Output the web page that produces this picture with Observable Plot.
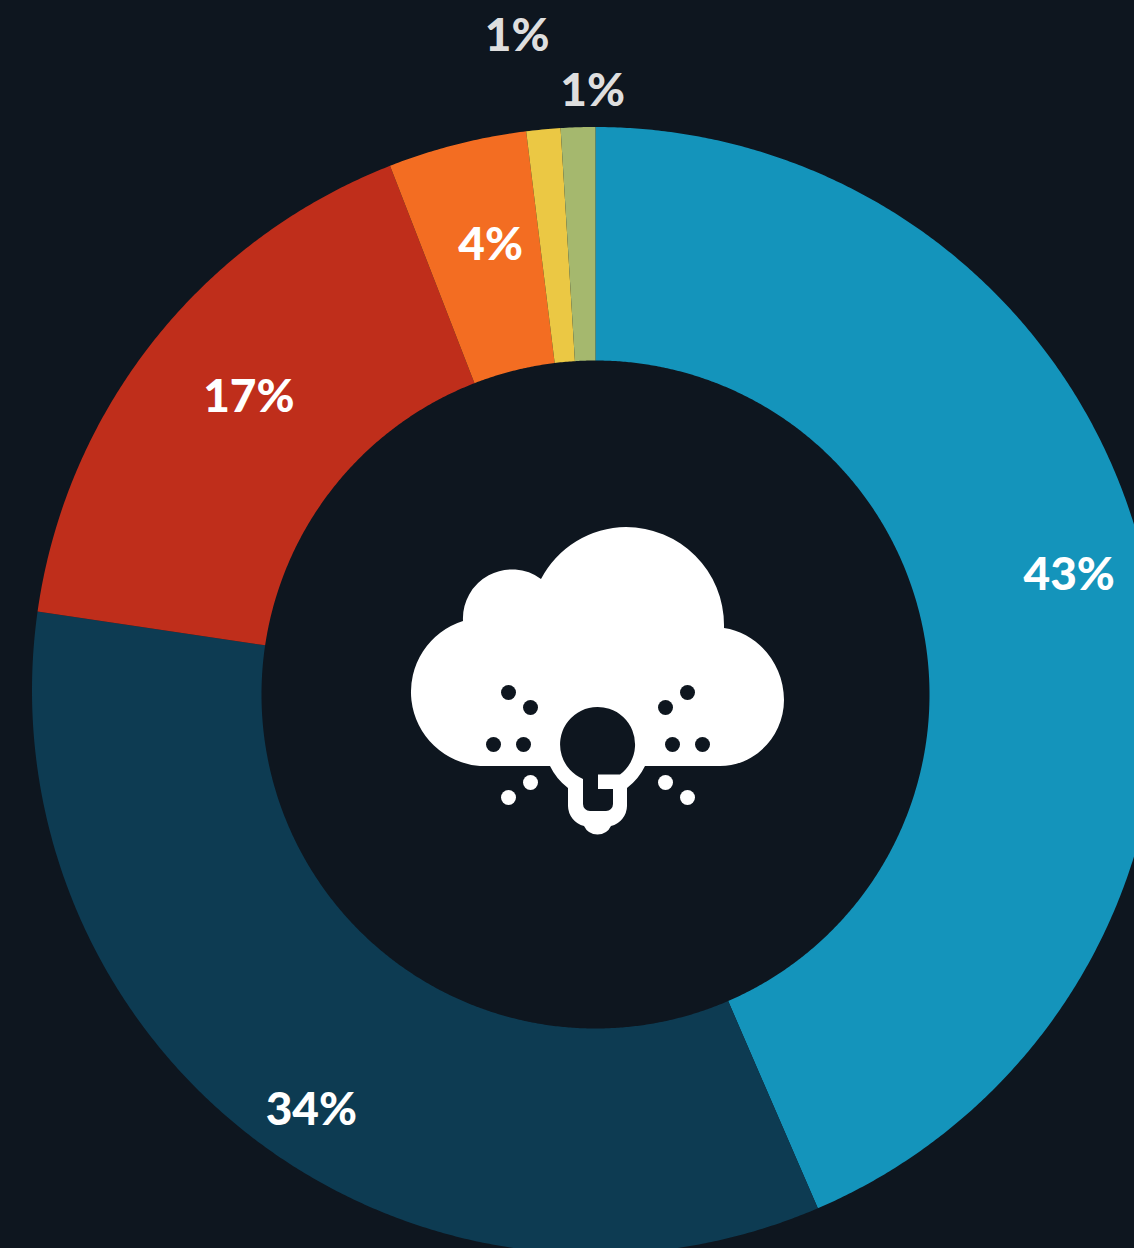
<!DOCTYPE html>
<html>
<head>
<meta charset="utf-8">
<script src="https://cdn.jsdelivr.net/npm/d3@7"></script>
<script src="https://cdn.jsdelivr.net/npm/@observablehq/plot@0.6"></script>
<style>
html,body{margin:0;padding:0;background:#0e161f;overflow:hidden}
svg{display:block}
</style>
</head>
<body>
<div id="chart"></div>
<script>
// Data
const categories = ["A", "B", "C", "D", "E", "F"];
const shares = [43.5, 33.85, 16.75, 3.95, 0.97, 0.98];
const labels = ["43%", "34%", "17%", "4%", "1%", "1%"];
const colors = ["#1494bb", "#0d3b52", "#bf2e1b", "#f36d22", "#ebc844", "#a5b86e"];

// Layout
const W = 1134, H = 1248, BG = "#0e161f";
const cx = 595, cyOuter = 690, cyInner = 694, R = 563.5, r0 = 334, labelR = 450;
const nudges = [[33, -28], [-10, 59], [5, -16], [5, -13], [-37, -210], [11, -153]];

const total = d3.sum(shares);
let acc = 0;
const slices = shares.map((v, i) => {
  const a0 = acc / total * 2 * Math.PI;
  acc += v;
  return {cat: categories[i], label: labels[i], i, a0, a1: acc / total * 2 * Math.PI};
});
const polar = (a, r) => [cx + r * Math.sin(a), cyInner - r * Math.cos(a)];
// Rays leave the inner centre and stop on the outer circle, whose centre sits a little higher.
const d = cyInner - cyOuter;
const outerRadius = a => d * Math.cos(a) + Math.sqrt(d * d * Math.cos(a) ** 2 - d * d + R * R);
const ring = slices.flatMap(s => {
  const n = Math.max(4, Math.ceil((s.a1 - s.a0) * 180));
  const pts = [];
  for (let k = 0; k <= n; ++k) {
    const a = s.a0 + (s.a1 - s.a0) * k / n;
    const [x, y] = polar(a, outerRadius(a));
    pts.push({cat: s.cat, x, y});
  }
  for (let k = n; k >= 0; --k) {
    const [x, y] = polar(s.a0 + (s.a1 - s.a0) * k / n, r0);
    pts.push({cat: s.cat, x, y});
  }
  return pts;
});
const labelRows = slices.map(s => {
  const [x, y] = polar((s.a0 + s.a1) / 2, labelR);
  return {label: s.label, x: x + nudges[s.i][0], y: y + nudges[s.i][1], outside: s.i >= 4};
});

// Icon (decorative glyph, page pixels)
const cloudPath = "M480 766 A74.3 74.3 0 0 1 463 621 A49 49 0 0 1 541 579 A97 97 0 0 1 626 527 A98 98 0 0 1 724 625 L724 628 " +
  "C758 633 784 664 784 700 C784 736 755 766 720 766 L645 766 " +
  "A60 60 0 0 1 627 788 L627 806 A21 21 0 0 1 611 826 A15 15 0 0 1 584 826 A21 21 0 0 1 568 806 L568 788 A60 60 0 0 1 550 766 Z";
const bulbHole = "M583 779 A37.5 37.5 0 1 1 620 774.5 L598 774.5 L598 789 L613 789 L613 804 A7 7 0 0 1 606 811 L590 811 A7 7 0 0 1 583 804 Z";
const darkDots = [[508, 692], [530, 707], [493, 744], [523, 744], [687, 692], [665, 707], [672, 744], [702, 744]];
const lightDots = [[530, 782], [508, 797], [665, 782], [687, 797]];

const iconMark = () => {
  const g = d3.create("svg:g");
  g.append("path").attr("d", cloudPath).attr("fill", "#fff");
  g.append("path").attr("d", bulbHole).attr("fill", BG);
  return g.node();
};

const chart = Plot.plot({
  width: W, height: H,
  margin: 0,
  style: {background: BG, overflow: "hidden"},
  x: {type: "linear", domain: [0, W], range: [0, W], axis: null},
  y: {type: "linear", domain: [0, H], range: [0, H], axis: null},
  color: {type: "ordinal", domain: categories, range: colors},
  marks: [
    Plot.line(ring, {x: "x", y: "y", z: "cat", fill: "cat", stroke: null, curve: "linear"}),
    iconMark,
    Plot.dot(darkDots, {x: p => p[0], y: p => p[1], r: 7.5, fill: BG, stroke: null}),
    Plot.dot(lightDots, {x: p => p[0], y: p => p[1], r: 7.5, fill: "#fff", stroke: null}),
    Plot.text(labelRows.filter(l => !l.outside), {x: "x", y: "y", text: "label", fill: "#fff", fontSize: 46, fontWeight: 900, fontFamily: "Lato"}),
    Plot.text(labelRows.filter(l => l.outside), {x: "x", y: "y", text: "label", fill: "#dedede", fontSize: 46, fontWeight: 900, fontFamily: "Lato"})
  ]
});
document.getElementById("chart").append(chart);
</script>
</body>
</html>
